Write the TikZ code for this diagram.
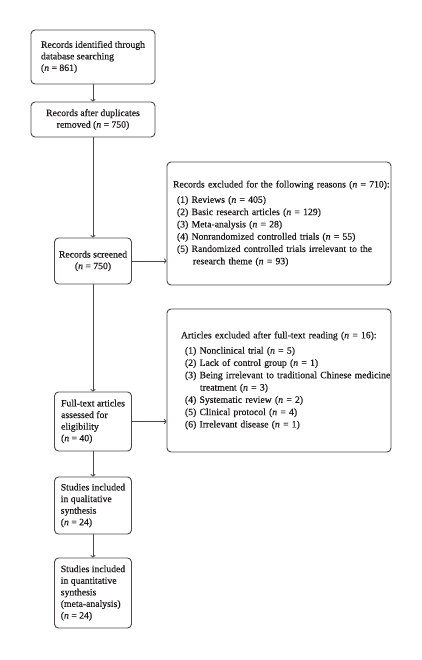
\documentclass[tikz,border=0pt]{standalone}
\usepackage{fontspec}
\setmainfont{Liberation Serif}[FakeBold=0.35]
\usetikzlibrary{arrows.meta}
\definecolor{boxline}{HTML}{4E4747}
\definecolor{txt}{HTML}{1E1A1B}
\newcommand{\nn}{\textit{n}}
\begin{document}
\begin{tikzpicture}[x=1pt,y=-1pt,
  box/.style={draw=boxline, line width=0.9pt, rounded corners=4pt, rectangle,
    text=txt, inner sep=0pt, font=\fontsize{9.7}{11.6}\selectfont},
  rbox/.style={box, text width=218pt, inner xsep=3pt, align=left,
    font=\fontsize{9.7}{12.3}\selectfont},
  arr/.style={draw=boxline, line width=0.85pt, -{To[length=2.6pt,width=5pt]}}]
\useasboundingbox (0,0) rectangle (422,660);
\fill[white] (0,0) rectangle (422,660);

\node[box, align=left, minimum width=124pt, minimum height=54pt] (b1) at (93,57)
  {Records identified through\\database searching\\(\nn{} = 861)};
\node[box, align=center, minimum width=124pt, minimum height=35pt] (b2) at (93,119.5)
  {Records after duplicates\\removed (\nn{} = 750)};
\node[box, align=center, minimum width=77pt, minimum height=46pt] (b3) at (93,261)
  {Records screened\\(\nn{} = 750)};
\node[box, align=left, minimum width=77pt, minimum height=59pt] (b4) at (93,421.5)
  {Full-text articles\\assessed for\\eligibility\\(\nn{} = 40)};
\node[box, align=left, minimum width=77pt, minimum height=57pt] (b5) at (93,505.5)
  {Studies included\\in qualitative\\synthesis\\(\nn{} = 24)};
\node[box, align=left, minimum width=77pt, minimum height=70pt] (b6) at (93,593)
  {Studies included\\in quantitative\\synthesis\\(meta-analysis)\\(\nn{} = 24)};

\node[rbox, minimum height=123pt] (r1) at (279,223.5)
  {\mbox{\hspace*{3pt}Records excluded for the following reasons (\nn{} = 710):}\\[3pt]
   \hspace*{7pt}(1) Reviews (\nn{} = 405)\\
   \hspace*{7pt}(2) Basic research articles (\nn{} = 129)\\
   \hspace*{7pt}(3) Meta-analysis (\nn{} = 28)\\
   \hspace*{7pt}(4) Nonrandomized controlled trials (\nn{} = 55)\\
   \mbox{\hspace*{7pt}(5) Randomized controlled trials irrelevant to the}\\
   \hspace*{23pt}research theme (\nn{} = 93)};
\node[rbox, minimum height=143pt] (r2) at (279,380.5)
  {\mbox{\hspace*{11pt}Articles excluded after full-text reading (\nn{} = 16):}\\[3pt]
   \hspace*{15pt}(1) Nonclinical trial (\nn{} = 5)\\
   \hspace*{15pt}(2) Lack of control group (\nn{} = 1)\\
   \mbox{\hspace*{15pt}(3) Being irrelevant to traditional Chinese medicine}\\
   \hspace*{30pt}treatment (\nn{} = 3)\\
   \hspace*{15pt}(4) Systematic review\ (\nn{} = 2)\\
   \hspace*{15pt}(5) Clinical protocol (\nn{} = 4)\\
   \hspace*{15pt}(6) Irrelevant disease (\nn{} = 1)};

\draw[arr] (b1.south) -- (b2.north);
\draw[arr] (b2.south) -- (b3.north);
\draw[arr] (b3.east) -- (b3.east -| r1.west);
\draw[arr] (b3.south) -- (b4.north);
\draw[arr] (b4.east) -- (b4.east -| r2.west);
\draw[arr] (b4.south) -- (b5.north);
\draw[arr] (b5.south) -- (b6.north);
\end{tikzpicture}
\end{document}
